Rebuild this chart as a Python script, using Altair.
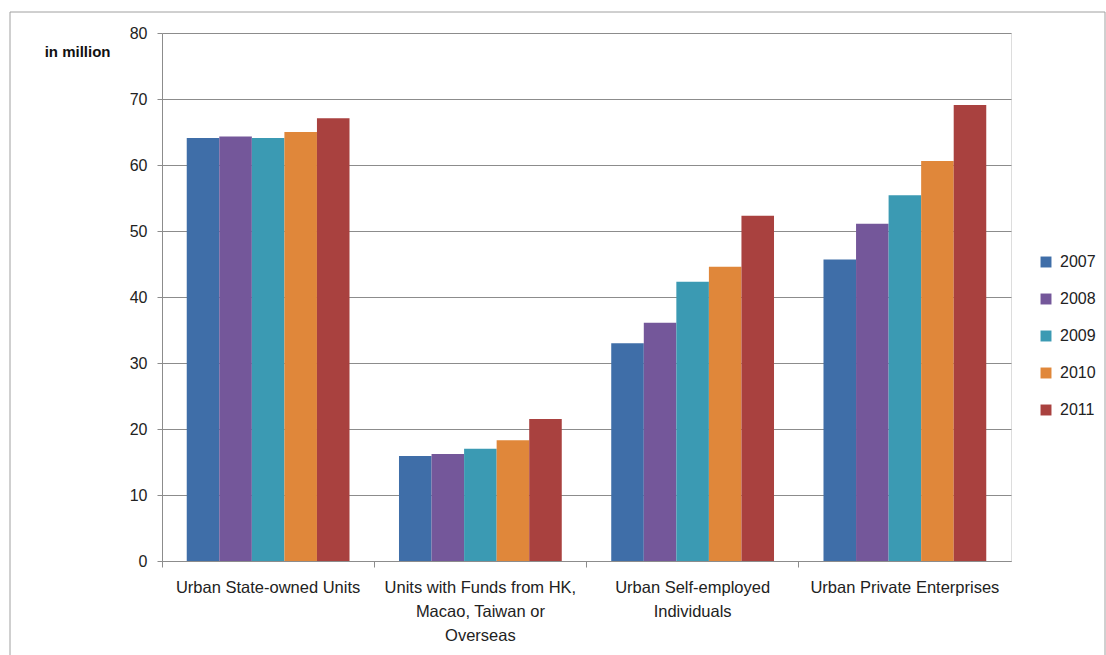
import altair as alt
import pandas as pd

categories = [
    "Urban State-owned Units",
    "Units with Funds from HK, Macao, Taiwan or Overseas",
    "Urban Self-employed Individuals",
    "Urban Private Enterprises",
]
label_lines = {
    "Urban State-owned Units": ["Urban State-owned Units"],
    "Units with Funds from HK, Macao, Taiwan or Overseas": ["Units with Funds from HK,", "Macao, Taiwan or", "Overseas"],
    "Urban Self-employed Individuals": ["Urban Self-employed", "Individuals"],
    "Urban Private Enterprises": ["Urban Private Enterprises"],
}
years = ["2007", "2008", "2009", "2010", "2011"]
values = {
    "2007": [64.1, 15.9, 33.0, 45.7],
    "2008": [64.3, 16.2, 36.1, 51.1],
    "2009": [64.1, 17.0, 42.3, 55.4],
    "2010": [65.0, 18.3, 44.6, 60.6],
    "2011": [67.1, 21.5, 52.3, 69.1],
}
colors = ["#3F6EA8", "#74579A", "#3B9AB3", "#E0873A", "#A9413F"]
y_ticks = [0, 10, 20, 30, 40, 50, 60, 70, 80]

rows = []
for y in years:
    for c, v in zip(categories, values[y]):
        rows.append({"category": c, "year": y, "value": v})
df = pd.DataFrame(rows)

# label expression for multi-line x labels
expr = "''"
for c in reversed(categories):
    lines = ", ".join("'" + l + "'" for l in label_lines[c])
    expr = f"datum.label == '{c}' ? [{lines}] : ({expr})"

FONT = "Liberation Sans"
W, H = 849, 528

bars = alt.Chart(df).mark_bar().encode(
    x=alt.X("category:N", sort=categories,
            scale=alt.Scale(paddingInner=0, paddingOuter=0),
            axis=alt.Axis(title=None, labelAngle=0, labelExpr=expr,
                          bandPosition=0, ticks=True, tickSize=6,
                          tickColor="#8C8C8C", domainColor="#8C8C8C",
                          labelFont=FONT, labelFontSize=16.5, labelColor="#222222",
                          labelPadding=12, labelLineHeight=24,
                          labelBaseline="top", labelLimit=300, grid=False)),
    xOffset=alt.XOffset("year:N", sort=years,
                        scale=alt.Scale(paddingInner=0, paddingOuter=0.76)),
    y=alt.Y("value:Q",
            scale=alt.Scale(domain=[0, 80], nice=False),
            axis=alt.Axis(values=y_ticks, title="in million", titleAngle=0,
                          titleX=-52, titleY=18, titleAlign="right",
                          titleBaseline="middle", titleFont=FONT,
                          titleFontSize=15, titleFontWeight="bold",
                          titleColor="#111111",
                          labelFont=FONT, labelFontSize=16,
                          labelColor="#222222", labelPadding=10,
                          tickSize=5, tickColor="#8C8C8C",
                          domainColor="#8C8C8C", gridColor="#8C8C8C",
                          gridWidth=1)),
    color=alt.Color("year:N", sort=years,
                    scale=alt.Scale(domain=years, range=colors),
                    legend=alt.Legend(title=None, orient="none",
                                      legendX=876, legendY=221,
                                      symbolType="square", symbolSize=120,
                                      symbolStrokeWidth=0,
                                      labelFont=FONT, labelFontSize=16,
                                      labelColor="#222222",
                                      rowPadding=21, labelOffset=6)),
)

frame_df = pd.DataFrame({"k": [0]})
frame = alt.Chart(frame_df).mark_rect(fill=None, stroke="#A0A0A0",
                                      strokeWidth=1, clip=False).encode(
    x=alt.value(-152), x2=alt.value(W + 94),
    y=alt.value(-21), y2=alt.value(H + 100),
)

chart = alt.layer(frame, bars).properties(
    width=W, height=H,
    autosize=alt.AutoSizeParams(type="none"),
    padding={"left": 162, "top": 33, "right": 95, "bottom": 94},
).configure_view(stroke=None).configure(background="white")

chart.save("out.html", embed_options={"renderer": "svg", "actions": False})
